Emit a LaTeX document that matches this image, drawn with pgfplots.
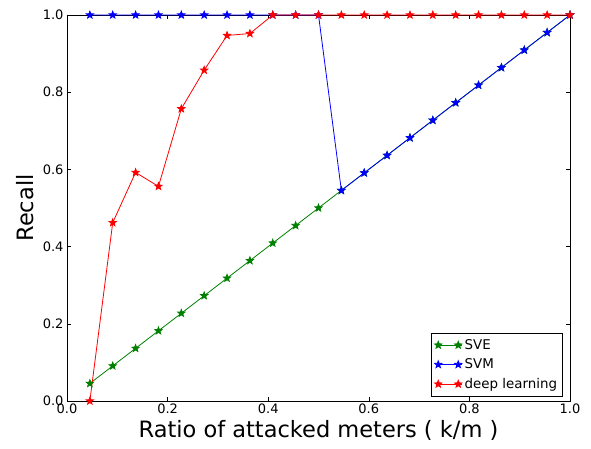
\documentclass[border=0pt]{standalone}
\usepackage{pgfplots}
\pgfplotsset{compat=1.18}
\usepackage{fontspec}
\setmainfont{DejaVu Sans}
\usetikzlibrary{plotmarks}

\pgfdeclareplotmark{fstar}{%
  \pgfpathmoveto{\pgfpointpolar{90}{\pgfplotmarksize}}%
  \pgfpathlineto{\pgfpointpolar{126}{0.42\pgfplotmarksize}}%
  \pgfpathlineto{\pgfpointpolar{162}{\pgfplotmarksize}}%
  \pgfpathlineto{\pgfpointpolar{198}{0.42\pgfplotmarksize}}%
  \pgfpathlineto{\pgfpointpolar{234}{\pgfplotmarksize}}%
  \pgfpathlineto{\pgfpointpolar{270}{0.42\pgfplotmarksize}}%
  \pgfpathlineto{\pgfpointpolar{306}{\pgfplotmarksize}}%
  \pgfpathlineto{\pgfpointpolar{342}{0.42\pgfplotmarksize}}%
  \pgfpathlineto{\pgfpointpolar{18}{\pgfplotmarksize}}%
  \pgfpathlineto{\pgfpointpolar{54}{0.42\pgfplotmarksize}}%
  \pgfpathclose
  \pgfusepathqfillstroke
}

\definecolor{mplgreen}{rgb}{0,0.5,0}

\begin{document}
\begin{tikzpicture}
\path[use as bounding box] (0,0) rectangle (591pt,449pt);
\begin{axis}[
  at={(67pt,48pt)}, anchor=south west,
  scale only axis, width=503pt, height=386pt,
  xmin=0, xmax=1, ymin=0, ymax=1,
  xtick={0,0.2,0.4,0.6,0.8,1.0},
  ytick={0,0.2,0.4,0.6,0.8,1.0},
  tick align=inside,
  major tick length=4pt,
  tick style={black, line width=0.5pt},
  axis line style={black, line width=0.8pt},
  xtick pos=both, ytick pos=both,
  /pgf/number format/assume math mode=true,
  /pgf/number format/.cd, fixed, fixed zerofill, precision=1, /pgfplots/.cd,
  tick label style={font=\fontsize{13}{15}\selectfont, black},
  xticklabel style={yshift=1pt},
  yticklabel style={xshift=0pt},
  xlabel={Ratio of attacked meters ( k/m )},
  ylabel={Recall},
  label style={font=\fontsize{22.5}{27}\selectfont},
  xlabel style={yshift=0pt},
  ylabel style={yshift=2pt},
  legend style={at={(0.986,0.012)}, anchor=south east, draw=black, line width=0.8pt,
    font=\fontsize{13.4}{15}\selectfont, cells={anchor=west}, row sep=4pt,
    inner xsep=3.5pt, inner ysep=4pt},
  legend image code/.code={%
    \path (0pt,0pt) -- (24pt,0pt);
    \draw[#1, mark repeat=2, mark phase=1] plot coordinates {(0pt,0pt) (10pt,0pt) (20pt,0pt)};},
  every axis plot/.append style={line width=0.8pt, mark=fstar, mark size=3.8pt,
     mark options={draw=black, line width=0.4pt, solid}},
]
\addplot[color=mplgreen, mark options={fill=mplgreen}] coordinates {
(0.04545,0.04545) (0.09091,0.09091) (0.13636,0.13636) (0.18182,0.18182)
(0.22727,0.22727) (0.27273,0.27273) (0.31818,0.31818) (0.36364,0.36364)
(0.40909,0.40909) (0.45455,0.45455) (0.5,0.5) (0.54545,0.54545)
(0.59091,0.59091) (0.63636,0.63636) (0.68182,0.68182) (0.72727,0.72727)
(0.77273,0.77273) (0.81818,0.81818) (0.86364,0.86364) (0.90909,0.90909)
(0.95455,0.95455) (1.0,1.0)};
\addlegendentry{SVE}
\addplot[color=blue, mark options={fill=blue}] coordinates {
(0.04545,1) (0.09091,1) (0.13636,1) (0.18182,1)
(0.22727,1) (0.27273,1) (0.31818,1) (0.36364,1)
(0.40909,1) (0.45455,1) (0.5,1) (0.54545,0.54545)
(0.59091,0.59091) (0.63636,0.63636) (0.68182,0.68182) (0.72727,0.72727)
(0.77273,0.77273) (0.81818,0.81818) (0.86364,0.86364) (0.90909,0.90909)
(0.95455,0.95455) (1.0,1.0)};
\addlegendentry{SVM}
\addplot[color=red, mark options={fill=red}] coordinates {
(0.04545,0.0) (0.09091,0.462) (0.13636,0.592) (0.18182,0.556)
(0.22727,0.757) (0.27273,0.857) (0.31818,0.947) (0.36364,0.952)
(0.40909,1) (0.45455,1) (0.5,1) (0.54545,1)
(0.59091,1) (0.63636,1) (0.68182,1) (0.72727,1)
(0.77273,1) (0.81818,1) (0.86364,1) (0.90909,1)
(0.95455,1) (1.0,1.0)};
\addlegendentry{deep learning}
\end{axis}
\end{tikzpicture}
\end{document}
